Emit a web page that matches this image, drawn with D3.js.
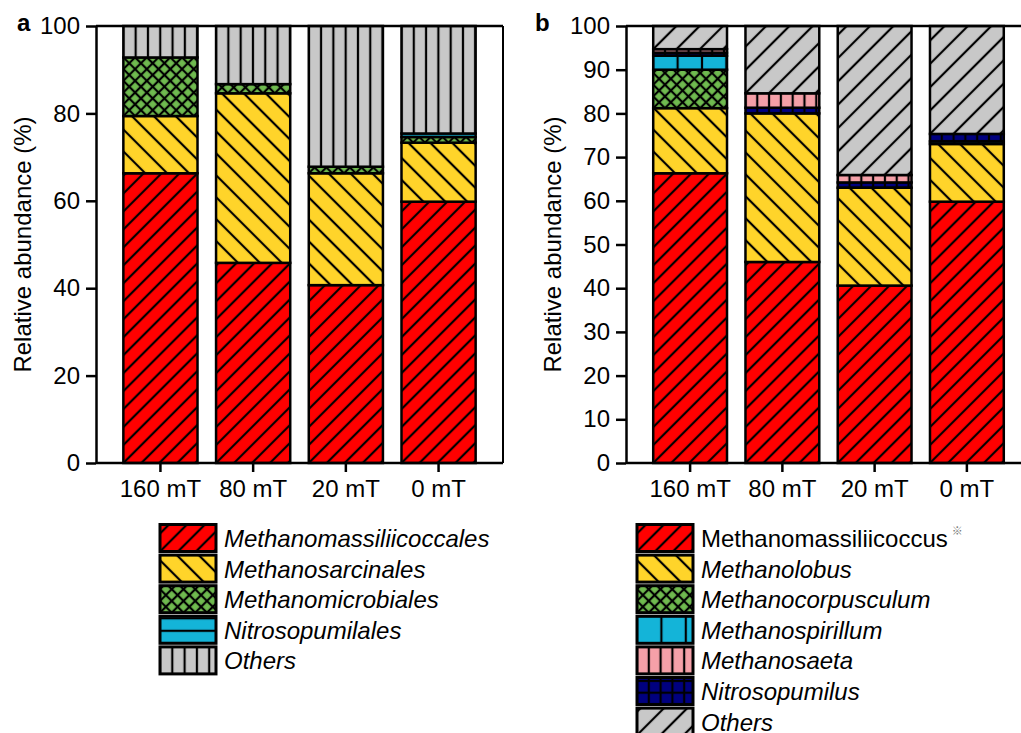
<!DOCTYPE html>
<html>
<head>
<meta charset="utf-8">
<script src="https://cdn.jsdelivr.net/npm/d3@7"></script>
<style>
  body { margin: 0; background: #fff; }
  svg { display: block; }
</style>
</head>
<body>
<svg id="drawing_region"></svg>
<script>
// categories on the x axis (same for both panels)
const categories = ['160 mT', '80 mT', '20 mT', '0 mT'];

// panel a : order level (%)
const ticksA = [0, 20, 40, 60, 80, 100];
const namesA = ['Methanomassiliicoccales', 'Methanosarcinales', 'Methanomicrobiales', 'Nitrosopumilales', 'Others'];
const methanomassiliicoccales = [66.3, 45.8, 40.7, 59.8];
const methanosarcinales = [13.1, 38.8, 25.6, 13.5];
const methanomicrobiales = [13.4, 2.1, 1.5, 1.3];
const nitrosopumilales = [0, 0, 0, 0.8];
const othersA = [7.2, 13.3, 32.2, 24.6];

// panel b : genus level (%)
const ticksB = [0, 10, 20, 30, 40, 50, 60, 70, 80, 90, 100];
const namesB = ['Methanomassiliicoccus', 'Methanolobus', 'Methanocorpusculum', 'Methanospirillum', 'Methanosaeta', 'Nitrosopumilus', 'Others'];
const stackOrderB = ['Methanomassiliicoccus', 'Methanolobus', 'Methanocorpusculum', 'Methanospirillum', 'Nitrosopumilus', 'Methanosaeta', 'Others'];
const methanomassiliicoccus = [66.3, 46.0, 40.6, 59.8];
const methanolobus = [14.9, 34.0, 22.4, 13.2];
const methanocorpusculum = [8.8, 0, 0, 0];
const methanospirillum = [3.2, 0, 0, 0.6];
const methanosaeta = [0.8, 3.3, 1.7, 0];
const nitrosopumilus = [0.7, 1.3, 1.2, 1.7];
const othersB = [5.3, 15.4, 34.1, 24.7];

const valuesA = {
    'Methanomassiliicoccales': methanomassiliicoccales,
    'Methanosarcinales': methanosarcinales,
    'Methanomicrobiales': methanomicrobiales,
    'Nitrosopumilales': nitrosopumilales,
    'Others': othersA,
};
const valuesB = {
    'Methanomassiliicoccus': methanomassiliicoccus,
    'Methanolobus': methanolobus,
    'Methanocorpusculum': methanocorpusculum,
    'Methanospirillum': methanospirillum,
    'Methanosaeta': methanosaeta,
    'Nitrosopumilus': nitrosopumilus,
    'Others': othersB,
};

// fill styles (colour + hatch)
const stylesA = {
    'Methanomassiliicoccales': { type: 'fwd', bg: '#ff0000', gap: 12.7 },
    'Methanosarcinales': { type: 'back', bg: '#ffd42a', gap: 15.5 },
    'Methanomicrobiales': { type: 'cross', bg: '#6fba4f', gap: 8.3 },
    'Nitrosopumilales': { type: 'horiz', bg: '#14b4d8', gap: 12.5 },
    'Others': { type: 'vert', bg: '#c8c8c8', gap: 12.3 },
};
const stylesB = {
    'Methanomassiliicoccus': { type: 'fwd', bg: '#ff0000', gap: 12.7 },
    'Methanolobus': { type: 'back', bg: '#ffd42a', gap: 15.5 },
    'Methanocorpusculum': { type: 'cross', bg: '#6fba4f', gap: 8.3 },
    'Methanospirillum': { type: 'vert', bg: '#14b4d8', gap: 24.4 },
    'Methanosaeta': { type: 'vert', bg: '#f5a0a8', gap: 11.8 },
    'Nitrosopumilus': { type: 'grid', bg: '#00007f', gap: 11.8 },
    'Others': { type: 'fwd', bg: '#c8c8c8', gap: 16.5 },
};

const FONT = '"Liberation Sans", Arial, Helvetica, sans-serif';

const svg = d3.select('#drawing_region')
    .attr('width', 1021)
    .attr('height', 733);
const defs = svg.append('defs');
let patternCount = 0;

// one pattern per rect so that stripes start at the rect's own corner
function makePattern(spec, x0, y0) {
    const id = 'pat' + (patternCount++);
    const g = spec.gap;
    const p = defs.append('pattern')
        .attr('id', id)
        .attr('patternUnits', 'userSpaceOnUse')
        .attr('width', g)
        .attr('height', g);
    let tr = `translate(${x0},${y0})`;
    if (spec.type == 'fwd') tr += ' rotate(45)';
    if (spec.type == 'back') tr += ' rotate(-45)';
    if (spec.type == 'cross') tr += ' rotate(45)';
    p.attr('patternTransform', tr);
    p.append('rect').attr('width', g).attr('height', g).attr('fill', spec.bg);

    const lw = 2.2;
    const vlines = ['fwd', 'back', 'cross', 'vert', 'grid'].includes(spec.type);
    const hlines = ['cross', 'horiz', 'grid'].includes(spec.type);
    if (vlines) {
        [0, g].forEach(x => p.append('line')
            .attr('x1', x).attr('x2', x).attr('y1', 0).attr('y2', g)
            .attr('stroke', 'black').attr('stroke-width', lw));
    }
    if (hlines) {
        [0, g].forEach(y => p.append('line')
            .attr('y1', y).attr('y2', y).attr('x1', 0).attr('x2', g)
            .attr('stroke', 'black').attr('stroke-width', lw));
    }
    return `url(#${id})`;
}

class StackedBar {
    constructor(config, values, stackOrder, legendNames, styles) {
        this.config = config;
        this.values = values;
        this.stackOrder = stackOrder;
        this.legendNames = legendNames;
        this.styles = styles;
        this.init();
    }

    init() {
        let self = this;
        const c = self.config;

        self.table = categories.map((cat, i) => {
            const row = { cat: cat };
            self.stackOrder.forEach(k => row[k] = self.values[k][i]);
            return row;
        });
        self.series = d3.stack().keys(self.stackOrder)(self.table);

        self.yscale = d3.scaleLinear()
            .domain([0, 100])
            .range([c.bottom, c.top]);

        self.xscale = d3.scaleBand()
            .domain(categories)
            .range([c.left, c.right])
            .paddingInner(0.2)
            .paddingOuter(0.295);

        self.yaxis = d3.axisLeft(self.yscale)
            .tickValues(c.ticks)
            .tickSize(10)
            .tickPadding(6)
            .tickSizeOuter(0);

        self.xaxis = d3.axisBottom(self.xscale)
            .tickSize(9)
            .tickPadding(8)
            .tickSizeOuter(0);

        self.chart = svg.append('g');
    }

    render() {
        let self = this;
        const c = self.config;

        // bars
        self.series.forEach(s => {
            const spec = self.styles[s.key];
            s.forEach(d => {
                if (d[1] - d[0] <= 0) return;
                const x = self.xscale(d.data.cat);
                const y = self.yscale(d[1]);
                self.chart.append('rect')
                    .attr('x', x)
                    .attr('y', y)
                    .attr('width', self.xscale.bandwidth())
                    .attr('height', self.yscale(d[0]) - self.yscale(d[1]))
                    .attr('fill', makePattern(spec, x, self.yscale(d[0])))
                    .attr('stroke', 'black')
                    .attr('stroke-width', 2.5);
            });
        });

        // frame: top and right
        self.chart.append('line')
            .attr('x1', c.left).attr('x2', c.frameRight)
            .attr('y1', c.top).attr('y2', c.top)
            .attr('stroke', 'black').attr('stroke-width', 2.5);
        self.chart.append('line')
            .attr('x1', c.frameRight).attr('x2', c.frameRight)
            .attr('y1', c.top).attr('y2', c.bottom)
            .attr('stroke', 'black').attr('stroke-width', 2);

        // axes
        const ya = self.chart.append('g')
            .attr('transform', `translate(${c.left},0)`)
            .call(self.yaxis);
        const xa = self.chart.append('g')
            .attr('transform', `translate(0,${c.bottom})`)
            .call(self.xaxis);
        [ya, xa].forEach(a => {
            a.attr('font-size', 24).attr('font-family', FONT);
            a.selectAll('path, line').attr('stroke', 'black').attr('stroke-width', 2.5);
            a.selectAll('text').attr('fill', 'black');
        });
        xa.select('.domain').attr('d', `M${c.left},0H${c.frameRight}`);

        // y label
        self.chart.append('text')
            .attr('transform', `translate(${c.ylabelX},${(c.top + c.bottom) / 2}) rotate(-90)`)
            .attr('text-anchor', 'middle')
            .attr('font-family', FONT)
            .attr('font-size', 24)
            .text('Relative abundance (%)');

        // panel letter
        self.chart.append('text')
            .attr('x', c.letterX)
            .attr('y', 31)
            .attr('font-family', FONT)
            .attr('font-size', 24)
            .attr('font-weight', 'bold')
            .text(c.letter);

        // legend
        const rowY = i => 538 + i * 30.6;
        self.legendNames.forEach((name, i) => {
            const cy = rowY(i);
            const sx = c.legendX, sy = cy - 13.5;
            self.chart.append('rect')
                .attr('x', sx).attr('y', sy)
                .attr('width', 56).attr('height', 27)
                .attr('fill', makePattern(self.styles[name], sx, sy + 27))
                .attr('stroke', 'black')
                .attr('stroke-width', 3);
            const t = self.chart.append('text')
                .attr('x', c.legendX + 64)
                .attr('y', cy + 9)
                .attr('font-family', FONT)
                .attr('font-size', 24)
                .attr('font-style', c.upright.includes(name) ? 'normal' : 'italic')
                .text(name);
            if (c.marked.includes(name)) {
                t.append('tspan')
                    .attr('dx', 4)
                    .attr('dy', -12)
                    .attr('font-size', 11)
                    .attr('font-style', 'normal')
                    .attr('fill', '#777')
                    .attr('font-family', '"Noto Sans CJK JP", "DejaVu Sans", sans-serif')
                    .text('\u203B');
            }
        });
    }
}

const chartA = new StackedBar({
    letter: 'a', letterX: 17, ticks: ticksA,
    top: 26, bottom: 463, left: 96, right: 503, frameRight: 503,
    ylabelX: 30.5, legendX: 160, upright: [], marked: [],
}, valuesA, namesA, namesA, stylesA);
chartA.render();

const chartB = new StackedBar({
    letter: 'b', letterX: 535, ticks: ticksB,
    top: 26, bottom: 463, left: 626, right: 1031, frameRight: 1031,
    ylabelX: 560.5, legendX: 637, upright: ['Methanomassiliicoccus'], marked: ['Methanomassiliicoccus'],
}, valuesB, stackOrderB, namesB, stylesB);
chartB.render();
</script>
</body>
</html>
